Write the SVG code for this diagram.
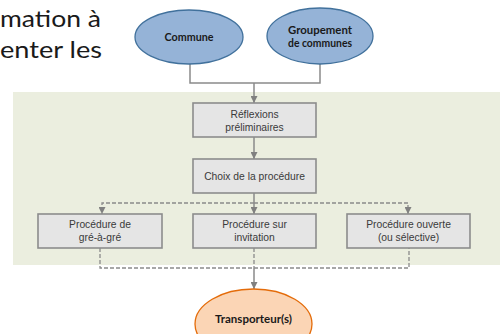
<svg xmlns="http://www.w3.org/2000/svg" width="500" height="334" viewBox="0 0 500 334">
<defs>
<style>
.bx{fill:#E5E5E5;stroke:#8C8C8C;stroke-width:1.6}
.bt{font-family:"Liberation Sans",Arial,sans-serif;font-size:10.3px;fill:#3A3A3A;text-anchor:middle}
.et{font-family:Lato,"Open Sans",sans-serif;font-weight:bold;font-size:10.5px;fill:#1A1A1A;text-anchor:middle}
.ln{fill:none;stroke:#8A8A8A;stroke-width:1.5}
.ds{fill:none;stroke:#8A8A8A;stroke-width:1.3;stroke-dasharray:4 2}
.bg{font-family:Lato,"Open Sans",sans-serif;font-size:24px;fill:#1A1A1A;text-anchor:end}
</style>
<marker id="ah" viewBox="0 0 10 10" refX="10" refY="5" markerWidth="7" markerHeight="7" markerUnits="userSpaceOnUse" orient="auto">
<path d="M0,0 L10,5 L0,10 z" fill="#808080"/>
</marker>
</defs>
<rect width="500" height="334" fill="#FFFFFF"/>
<text class="bg" x="101" y="27" textLength="101" lengthAdjust="spacingAndGlyphs">mation  à</text>
<text class="bg" x="102" y="58" textLength="102" lengthAdjust="spacingAndGlyphs">enter les</text>
<rect x="13" y="92" width="487" height="173" fill="#EBEEDF"/>
<g id="connectors">
<path class="ln" d="M190,64 V83 H320 V64"/>
<path class="ln" d="M254,83 V103" marker-end="url(#ah)"/>
<path class="ln" d="M254,137 V159" marker-end="url(#ah)"/>
<path class="ln" d="M254,193 V214" marker-end="url(#ah)"/>
<path class="ds" d="M254,203 H408 V214" marker-end="url(#ah)"/>
<path class="ds" d="M254,203 H102 V214" marker-end="url(#ah)"/>
<path class="ds" d="M100,248 V268 H409 V248"/>
<path class="ds" d="M254,248 V268"/>
<path class="ln" d="M254,268 V289" marker-end="url(#ah)"/>
</g>
<g id="commune">
<ellipse cx="189" cy="37" rx="54" ry="27" fill="#95B3D7" stroke="#41719C" stroke-width="1.3"/>
<text class="et" x="189" y="41" textLength="49" lengthAdjust="spacingAndGlyphs">Commune</text>
</g>
<g id="groupement">
<ellipse cx="320" cy="36" rx="53" ry="28" fill="#95B3D7" stroke="#41719C" stroke-width="1.3"/>
<text class="et" x="320" y="34" textLength="64" lengthAdjust="spacingAndGlyphs">Groupement</text>
<text class="et" x="320" y="47" textLength="64" lengthAdjust="spacingAndGlyphs">de communes</text>
</g>
<g id="reflexions">
<rect class="bx" x="193" y="103" width="123" height="34"/>
<text class="bt" x="254.5" y="118">Réflexions</text>
<text class="bt" x="254.5" y="131">préliminaires</text>
</g>
<g id="choix">
<rect class="bx" x="193" y="159" width="123" height="34"/>
<text class="bt" x="254.5" y="180">Choix de la procédure</text>
</g>
<g id="gre">
<rect class="bx" x="38" y="214" width="124" height="34"/>
<text class="bt" x="100" y="228">Procédure de</text>
<text class="bt" x="100" y="241">gré-à-gré</text>
</g>
<g id="invitation">
<rect class="bx" x="193" y="214" width="123" height="34"/>
<text class="bt" x="254.5" y="228">Procédure sur</text>
<text class="bt" x="254.5" y="241">invitation</text>
</g>
<g id="ouverte">
<rect class="bx" x="347" y="214" width="123" height="34"/>
<text class="bt" x="408.5" y="228">Procédure ouverte</text>
<text class="bt" x="408.5" y="241">(ou sélective)</text>
</g>
<g id="transporteurs">
<ellipse cx="253.5" cy="324" rx="58.5" ry="35" fill="#FBD5B5" stroke="#E46C0A" stroke-width="1.3"/>
<text class="et" x="253.5" y="323" textLength="77" lengthAdjust="spacingAndGlyphs">Transporteur(s)</text>
</g>
</svg>
